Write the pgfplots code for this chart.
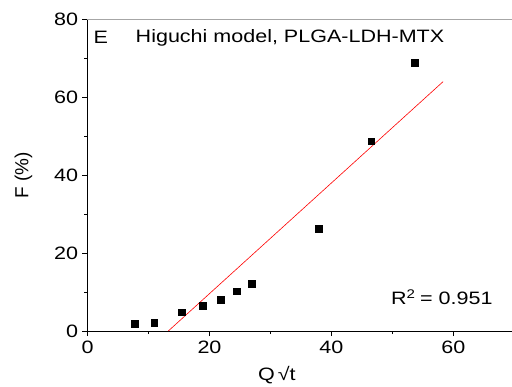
\documentclass[border=0pt]{standalone}
\usepackage{fontspec}
\setmainfont{Liberation Sans}[FakeStretch=1.2]
\newfontfamily\plainsans{Liberation Sans}
\usepackage{pgfplots}
\pgfplotsset{compat=1.18}
\begin{document}
\begin{tikzpicture}
\begin{axis}[
  name=ax,
  scale only axis,
  width=424.5bp, height=311.7bp,
  xmin=0, xmax=69.6, ymin=0, ymax=80,
  axis x line*=bottom, axis y line*=left,
  axis line style={black, line width=0.8bp, -},
  xtick={0,20,40,60}, ytick={0,20,40,60,80},
  minor xtick={10,30,50}, minor ytick={10,30,50,70},
  tick align=outside,
  major tick length=5bp, minor tick length=3bp,
  every tick/.style={black, line width=0.8bp},
  tick label style={font=\fontsize{18}{20}\selectfont},
  /pgf/number format/assume math mode=true,
  xticklabel style={yshift=-1bp},
  yticklabel style={xshift=-1bp},
  xlabel={Q\,√t},
  ylabel={F (\%)},
  xlabel style={font=\fontsize{18}{20}\selectfont, at={(rel axis cs:0.446,0)}, anchor=center, yshift=-44bp},
  ylabel style={font=\plainsans\fontsize{19}{21}\selectfont, at={(rel axis cs:0,0.5)}, anchor=center, rotate=0, yshift=64bp},
  clip=false,
]
\draw[gray!70, line width=0.8bp] (rel axis cs:0,1) -- (rel axis cs:1,1);
\addplot[only marks, mark=square*, mark size=3.4bp, black] coordinates {
  (7.7,1.8) (10.95,2.05) (15.5,4.8) (18.9,6.4) (21.9,7.95)
  (24.5,10.2) (26.9,12.05) (37.95,26.3) (46.5,48.7) (53.7,68.8)
};
\addplot[red, line width=0.6bp] coordinates {(13.25,0) (58.3,64.0)};
\node[font=\fontsize{18}{20}\selectfont, anchor=center] at (axis cs:2.2,75.4) {E};
\node[font=\fontsize{18}{20}\selectfont, anchor=center] at (axis cs:33.2,75.3) {Higuchi model, PLGA-LDH-MTX};
\node[font=\fontsize{18}{20}\selectfont, anchor=center] at (axis cs:58.1,8.7) {R$^{\mathrm{2}}$ = 0.951};
\end{axis}
\pgfresetboundingbox
\path ([shift={(-87.5bp,-56bp)}]ax.south west) rectangle ([shift={(424.5bp,331bp)}]ax.south west);
\end{tikzpicture}
\end{document}
